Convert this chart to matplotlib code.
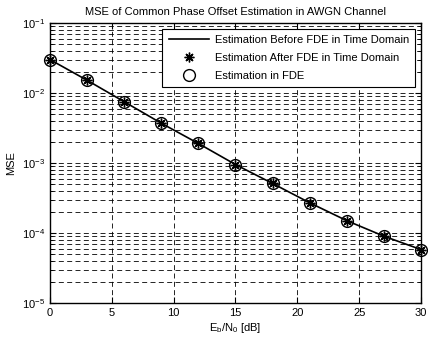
import matplotlib
matplotlib.use('Agg')
import matplotlib.pyplot as plt
from matplotlib.ticker import LogLocator, NullFormatter

plt.rcParams['font.family'] = ['Liberation Sans', 'DejaVu Sans']
plt.rcParams['mathtext.default'] = 'regular'

# Eb/N0 in dB and the estimated MSE
snr_db = [0, 3, 6, 9, 12, 15, 18, 21, 24, 27, 30]
mse_before = [0.030, 0.0152, 0.0075, 0.0037, 0.0019, 0.00095, 0.00051,
              0.00027, 0.000150, 0.000090, 0.000058]
mse_after = [0.030, 0.0152, 0.0075, 0.0037, 0.0019, 0.00095, 0.00051,
             0.00027, 0.000150, 0.000090, 0.000058]
mse_fde = [0.030, 0.0152, 0.0075, 0.0037, 0.0019, 0.00095, 0.00051,
           0.00027, 0.000150, 0.000090, 0.000058]

fig = plt.figure(figsize=(4.28, 3.39), dpi=100)
ax = fig.add_axes([50 / 428, 1 - 303 / 339, 371 / 428, 280 / 339])

ax.semilogy(snr_db, mse_before, '-', color='black', lw=1.2,
            label='Estimation Before FDE in Time Domain')
ax.semilogy(snr_db, mse_after, ls='none', marker=(8, 2, 0), ms=7, mew=1.0,
            color='black', clip_on=False, zorder=3,
            label='Estimation After FDE in Time Domain')
ax.semilogy(snr_db, mse_fde, ls='none', marker='o', ms=8.5, mew=1.0,
            mfc='none', mec='black', clip_on=False, zorder=3,
            label='Estimation in FDE')

ax.set_xlim(0, 30)
ax.set_ylim(1e-5, 1e-1)
ax.set_xticks(range(0, 31, 5))
ax.yaxis.set_major_locator(LogLocator(base=10, numticks=10))
ax.yaxis.set_minor_locator(LogLocator(base=10, subs=range(2, 10), numticks=20))
ax.yaxis.set_minor_formatter(NullFormatter())

ax.grid(True, which='major', color='black', ls=(0, (6, 4)), lw=0.6)
ax.grid(True, which='minor', axis='y', color='black', ls=(0, (6, 4)), lw=0.6)
ax.tick_params(which='both', direction='in', top=True, right=True, labelsize=8)
ax.tick_params(which='major', length=4)
ax.tick_params(which='minor', length=2)
for sp in ax.spines.values():
    sp.set_linewidth(1.0)

ax.set_title('MSE of Common Phase Offset Estimation in AWGN Channel', fontsize=8, pad=6)
ax.set_xlabel(r'E$_b$/N$_0$ [dB]', fontsize=8, labelpad=2)
ax.set_ylabel('MSE', fontsize=8)

leg = ax.legend(loc='upper right', fontsize=8, frameon=True, fancybox=False,
                framealpha=1, edgecolor='black', borderaxespad=0.5,
                borderpad=0.6, handlelength=3.6, handletextpad=0.5,
                labelspacing=0.7)
leg.get_frame().set_linewidth(0.8)
leg.set_zorder(5)

fig.savefig('out.png', dpi=100)
